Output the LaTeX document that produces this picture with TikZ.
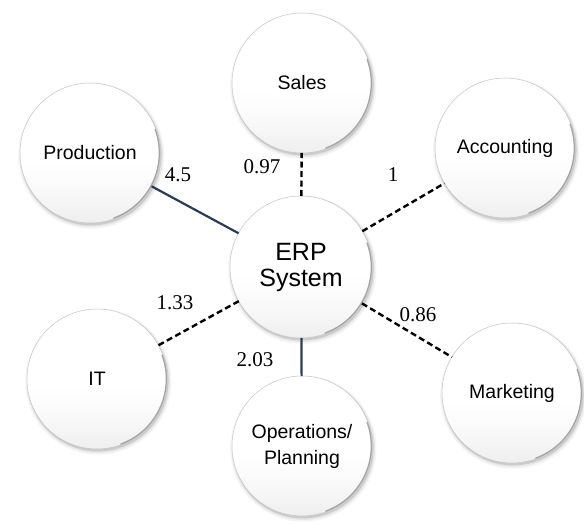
\documentclass[tikz,border=0pt]{standalone}
\usepackage{fontspec}
\setmainfont{Liberation Serif}
\newfontfamily\labelfont{Liberation Sans}
\usetikzlibrary{shadows}
% mostly white face that greys slightly towards the bottom
\pgfdeclareverticalshading{bubbleshade}{100bp}{color(0bp)=(gray!13); color(25bp)=(gray!13); color(36bp)=(gray!5); color(47bp)=(white); color(100bp)=(white)}
\begin{document}
\begin{tikzpicture}[x=1pt,y=1pt,
  bubble/.style={circle, minimum size=140pt, inner sep=0pt, outer sep=0pt,
    align=center, font=\labelfont\fontsize{19.5}{26}\selectfont,
    draw=gray!45, line width=0.5pt, shading=bubbleshade,
    general shadow={fill=black, opacity=0.04, shadow xshift=1.2pt, shadow yshift=-2.5pt, shadow scale=1.045},
    general shadow={fill=black, opacity=0.06, shadow xshift=1.2pt, shadow yshift=-2.2pt, shadow scale=1.025},
    general shadow={fill=black, opacity=0.12, shadow xshift=1pt, shadow yshift=-1.8pt, shadow scale=1.008}},
  rimline/.style={gray!70, line width=1.3pt, line cap=round},
  dashlink/.style={black, line width=2.4pt, dash pattern=on 6pt off 3.5pt},
  solidlink/.style={draw={rgb,255:red,44;green,60;blue,84}, line width=2.2pt},
  weight/.style={font=\fontsize{21}{24}\selectfont, inner sep=0pt}]
\useasboundingbox (0,0) rectangle (584,523);

% department bubbles
\node[bubble] (sales) at (302,440) {Sales};
\node[bubble] (acct)  at (505,375) {Accounting};
\node[bubble] (prod)  at (90,370)  {Production};
\node[bubble, minimum size=142pt, font=\labelfont\fontsize{25}{26}\selectfont] (erp) at (301,256) {ERP\\System};
\node[bubble] (it)    at (97,144)  {IT};
\node[bubble] (mkt)   at (512,130) {Marketing};
\node[bubble] (ops)   at (302,77)  {Operations/\\Planning};

% darker rim on the lower right of each bubble
\foreach \n/\r in {sales/70,acct/70,prod/70,erp/71,it/70,mkt/70,ops/70}{
  \draw[rimline] ([shift={(-70:\r-0.7)}]\n.center) arc[start angle=-70, end angle=20, radius=\r-0.7];
}

% links to the central system
\draw[dashlink]  (erp) -- (sales);
\draw[dashlink]  (erp) -- (acct);
\draw[solidlink] (erp) -- (prod);
\draw[dashlink]  (erp) -- (it);
\draw[dashlink]  (erp) -- (mkt);
\draw[solidlink] (erp) -- (ops);

% link weights
\node[weight] (wsales) at (262,356) {0.97};
\node[weight] (wacct)  at (393,348) {1};
\node[weight] (wprod)  at (178,348) {4.5};
\node[weight] (wit)    at (175,220) {1.33};
\node[weight] (wmkt)   at (418,208) {0.86};
\node[weight] (wops)   at (255,163) {2.03};
\end{tikzpicture}
\end{document}
